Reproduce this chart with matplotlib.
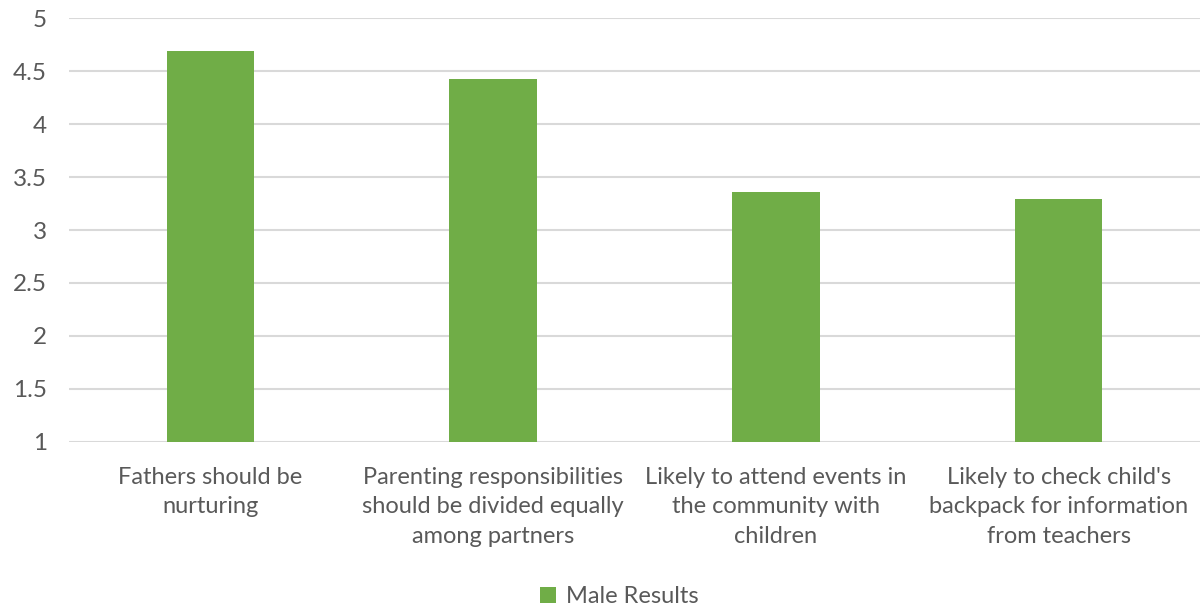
import matplotlib.pyplot as plt
import numpy as np

categories = [
    "Fathers should be\nnurturing",
    "Parenting responsibilities\nshould be divided equally\namong partners",
    "Likely to attend events in\nthe community with\nchildren",
    "Likely to check child's\nbackpack for information\nfrom teachers",
]
male_results = [4.69, 4.43, 3.36, 3.29]
yticks = [1, 1.5, 2, 2.5, 3, 3.5, 4, 4.5, 5]
ytick_labels = ["1", "1.5", "2", "2.5", "3", "3.5", "4", "4.5", "5"]

bar_color = '#70AD47'
text_color = '#595959'
grid_color = '#D9D9D9'

plt.rcParams['font.family'] = ['Lato', 'DejaVu Sans']

fig = plt.figure(figsize=(12, 6.09), dpi=100)
ax = fig.add_axes([0.0575, 0.2747, 0.9425, 0.695])

x = np.arange(len(categories))
ax.bar(x, [v - 1 for v in male_results], 0.31, bottom=1,
       color=bar_color, label="Male Results", zorder=3)

ax.set_xlim(-0.5, len(categories) - 0.5)
ax.set_ylim(1, 5)
ax.set_yticks(yticks)
ax.set_yticklabels(ytick_labels, fontsize=17.5, color=text_color)
ax.set_xticks(x)
ax.set_xticklabels(categories, fontsize=17, color=text_color, linespacing=1.5, va='top')
ax.tick_params(axis='both', length=0)
ax.tick_params(axis='x', pad=18)
ax.tick_params(axis='y', pad=16)
ax.grid(axis='y', color=grid_color, linewidth=1.5, zorder=0)
for sp in ax.spines.values():
    sp.set_visible(False)

fig.legend(loc='center', bbox_to_anchor=(0.516, 0.02), frameon=False,
           fontsize=17, labelcolor=text_color, handlelength=0.7, handleheight=0.7,
           handletextpad=0.4)

fig.savefig('out.png', dpi=100)
